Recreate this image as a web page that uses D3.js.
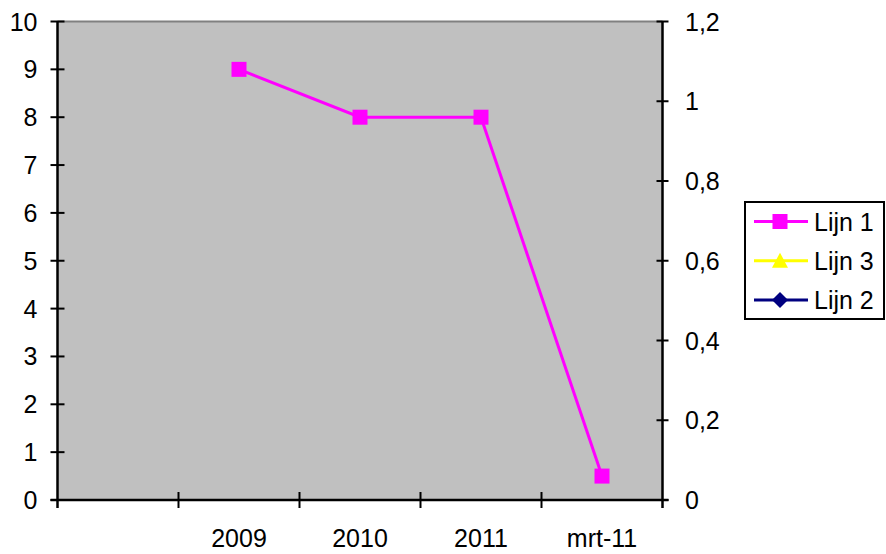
<!DOCTYPE html>
<html>
<head>
<meta charset="utf-8">
<script src="https://cdn.jsdelivr.net/npm/d3@7"></script>
<style>
html,body{margin:0;padding:0;background:#fff;}
svg{display:block;font-family:"Liberation Sans",Arial,sans-serif;}
</style>
</head>
<body>
<svg id="chart" width="886" height="554"></svg>
<script>
const categories = ["", "2009", "2010", "2011", "mrt-11"];
const lijn1 = [null, 9, 8, 8, 0.5];
const lijn3 = [null, null, null, null, null];
const lijn2 = [null, null, null, null, null];
const leftTicks = [0,1,2,3,4,5,6,7,8,9,10];
const rightTicks = [0,0.2,0.4,0.6,0.8,1,1.2];

const series = [
  {name:"Lijn 1", values:lijn1, color:"#FF00FF", marker:"square"},
  {name:"Lijn 3", values:lijn3, color:"#FFFF00", marker:"triangle"},
  {name:"Lijn 2", values:lijn2, color:"#000080", marker:"diamond"}
];

const svg = d3.select("#chart");
const L = 57.5, R = 662.5, T = 21.5, B = 500;
const fs = 25;

const x = d3.scaleBand().domain(categories.map((c,i)=>i)).range([L,R]).padding(0);
const y = d3.scaleLinear().domain([0,10]).range([B,T]);
const y2 = d3.scaleLinear().domain([0,1.2]).range([B,T]);

// plot area
svg.append("rect").attr("x",L).attr("y",T).attr("width",R-L).attr("height",B-T).attr("fill","#C0C0C0");
svg.append("line").attr("x1",L).attr("x2",R).attr("y1",T).attr("y2",T).attr("stroke","#808080").attr("stroke-width",2);

// left axis
const gl = svg.append("g");
gl.append("line").attr("x1",L).attr("x2",L).attr("y1",T).attr("y2",B+8).attr("stroke","#000").attr("stroke-width",2.5);
leftTicks.forEach(v=>{
  gl.append("line").attr("x1",L-7).attr("x2",L+7).attr("y1",y(v)).attr("y2",y(v)).attr("stroke","#000").attr("stroke-width",2);
  gl.append("text").attr("x",37.5).attr("y",y(v)).attr("dy","0.36em").attr("text-anchor","end").attr("font-size",fs).text(v);
});

// right axis
const fmt = v => String(+v.toFixed(1)).replace(".",",");
const gr = svg.append("g");
gr.append("line").attr("x1",R).attr("x2",R).attr("y1",T).attr("y2",B+8).attr("stroke","#000").attr("stroke-width",2.5);
rightTicks.forEach(v=>{
  gr.append("line").attr("x1",R-6).attr("x2",R+6).attr("y1",y2(v)).attr("y2",y2(v)).attr("stroke","#000").attr("stroke-width",2);
  gr.append("text").attr("x",685).attr("y",y2(v)).attr("dy","0.36em").attr("text-anchor","start").attr("font-size",fs).text(fmt(v));
});

// x axis
const gx = svg.append("g");
gx.append("line").attr("x1",L-7).attr("x2",R+6).attr("y1",B).attr("y2",B).attr("stroke","#000").attr("stroke-width",2.5);
categories.forEach((c,i)=>{
  const xb = x(i);
  if(i>0) gx.append("line").attr("x1",xb).attr("x2",xb).attr("y1",B-8).attr("y2",B+8).attr("stroke","#000").attr("stroke-width",2);
  gx.append("text").attr("x",xb + x.bandwidth()/2).attr("y",547).attr("text-anchor","middle").attr("font-size",fs).text(c);
});

// markers
function drawMarker(g, type, cx, cy, color){
  if(type==="square"){
    g.append("rect").attr("x",cx-7.5).attr("y",cy-7.5).attr("width",15).attr("height",15).attr("fill",color);
  } else if(type==="triangle"){
    g.append("path").attr("d",`M${cx},${cy-8}L${cx+8},${cy+7}L${cx-8},${cy+7}Z`).attr("fill",color);
  } else {
    g.append("path").attr("d",`M${cx},${cy-8}L${cx+8},${cy}L${cx},${cy+8}L${cx-8},${cy}Z`).attr("fill",color);
  }
}

// lines
const line = d3.line().defined(d=>d.v!=null).x(d=>x(d.i)+x.bandwidth()/2).y(d=>y(d.v));
series.forEach(s=>{
  const pts = s.values.map((v,i)=>({i,v}));
  svg.append("path").attr("d",line(pts)).attr("fill","none").attr("stroke",s.color).attr("stroke-width",3);
  const gm = svg.append("g");
  pts.filter(d=>d.v!=null).forEach(d=>drawMarker(gm,s.marker,x(d.i)+x.bandwidth()/2,y(d.v),s.color));
});

// legend
const lg = svg.append("g");
lg.append("rect").attr("x",745).attr("y",202).attr("width",139).attr("height",117).attr("fill","#fff").attr("stroke","#000").attr("stroke-width",2);
series.forEach((s,k)=>{
  const cy = 221.5 + k*39.2;
  lg.append("line").attr("x1",754).attr("x2",808).attr("y1",cy).attr("y2",cy).attr("stroke",s.color).attr("stroke-width",3);
  drawMarker(lg,s.marker,780,cy,s.color);
  lg.append("text").attr("x",814).attr("y",cy).attr("dy","0.36em").attr("font-size",fs).text(s.name);
});
</script>
</body>
</html>
